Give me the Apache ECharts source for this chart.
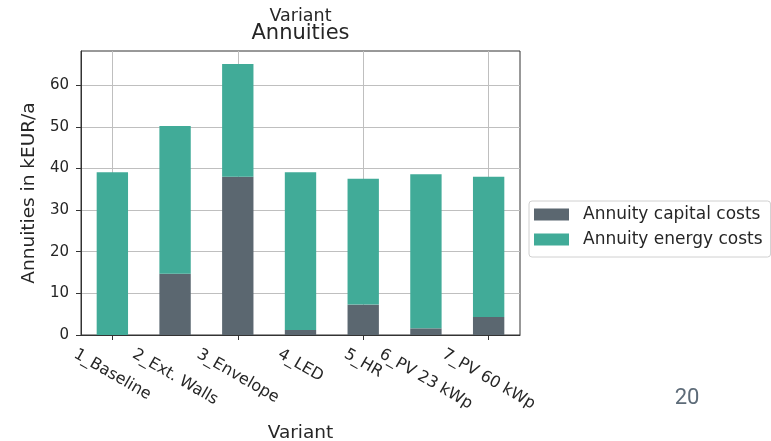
<!DOCTYPE html>
<html>
<head>
<meta charset="utf-8">
<script src="https://cdn.jsdelivr.net/npm/echarts@6/dist/echarts.min.js"></script>
<style>
  html, body { margin: 0; padding: 0; background: #ffffff; }
  #chart { width: 771px; height: 441px; }
</style>
</head>
<body>
<div id="chart"></div>
<script>
// Annuities per refurbishment variant, in kEUR per year
const variants = ['1_Baseline', '2_Ext. Walls', '3_Envelope', '4_LED', '5_HR', '6_PV 23 kWp', '7_PV 60 kWp'];
const capitalCosts = [0, 14.7, 38.0, 1.2, 7.3, 1.6, 4.3];
const energyCosts = [39.1, 35.5, 27.1, 37.9, 30.2, 37.0, 33.7];
const yTickValues = [0, 10, 20, 30, 40, 50, 60];
const seriesNames = ['Annuity capital costs', 'Annuity energy costs'];

const INK = '#262626';
const FONT = 'DejaVu Sans';
const TICK_FONT_SIZE = 15;
const CAT_FONT_SIZE = 16;

const chart = echarts.init(document.getElementById('chart'), null, { renderer: 'canvas' });

const option = {
  animation: false,
  backgroundColor: '#ffffff',
  grid: {
    left: 81, right: 251, top: 51, bottom: 106,
    show: true, borderColor: '#333333', borderWidth: 1, backgroundColor: 'transparent'
  },
  legend: {
    orient: 'vertical',
    left: 529, top: 201,
    icon: 'rect',
    itemWidth: 35, itemHeight: 12, itemGap: 8,
    padding: [5, 8, 9, 5],
    borderColor: '#d0d0d0', borderWidth: 1, borderRadius: 3,
    backgroundColor: '#ffffff',
    textStyle: { fontSize: 17, color: INK, fontFamily: FONT, padding: [0, 0, 0, 9] },
    data: seriesNames
  },
  xAxis: {
    type: 'category',
    data: variants,
    boundaryGap: true,
    axisLine: { show: true, lineStyle: { color: '#333333', width: 1 } },
    axisTick: { show: true, alignWithLabel: true, length: 5, lineStyle: { color: '#333333' } },
    axisLabel: { show: false },
    splitLine: { show: true, alignWithLabel: true, lineStyle: { color: '#bfbfbf', width: 1 } }
  },
  yAxis: {
    type: 'value',
    min: 0, max: 68.2, interval: 10,
    axisLine: { show: true, lineStyle: { color: '#333333', width: 1 } },
    axisTick: { show: true, length: 5, customValues: yTickValues, lineStyle: { color: '#333333' } },
    axisLabel: { show: true, customValues: yTickValues, margin: 12, fontSize: TICK_FONT_SIZE, color: INK, fontFamily: FONT },
    splitLine: { show: true, lineStyle: { color: '#bfbfbf', width: 1 } }
  },
  series: [
    {
      name: seriesNames[0], type: 'bar', stack: 'total', barWidth: '50%',
      itemStyle: { color: '#5b6770' },
      emphasis: { disabled: true },
      data: capitalCosts
    },
    {
      name: seriesNames[1], type: 'bar', stack: 'total', barWidth: '50%',
      itemStyle: { color: '#41ab98' },
      emphasis: { disabled: true },
      data: energyCosts
    }
  ]
};

chart.setOption(option);

// Rotated category labels, centred under each tick (box-centred like a rotated matplotlib label)
const measureCtx = document.createElement('canvas').getContext('2d');
measureCtx.font = CAT_FONT_SIZE + 'px "' + FONT + '"';
const angle = Math.PI / 6;
const axisY = chart.convertToPixel({ yAxisIndex: 0 }, 0);
const labelTop = axisY + 5 + 5;
const lineH = CAT_FONT_SIZE * 1.17;

function txt(text, x, y, size, rot, color, family) {
  return {
    type: 'text', x: x, y: y, rotation: rot || 0, silent: true,
    style: {
      text: text, fill: color || INK,
      fontSize: size, fontFamily: family || FONT,
      font: size + 'px "' + (family || FONT) + '"',
      align: 'center', verticalAlign: 'middle',
      textAlign: 'center', textVerticalAlign: 'middle'
    }
  };
}

const graphics = variants.map(function (name, i) {
  const cx = chart.convertToPixel({ xAxisIndex: 0 }, i);
  const w = measureCtx.measureText(name).width;
  const boxH = w * Math.sin(angle) + lineH * Math.cos(angle);
  return txt(name, cx, labelTop + boxH / 2, CAT_FONT_SIZE, -angle);
});

const plotCx = (chart.convertToPixel({ xAxisIndex: 0 }, 0) + chart.convertToPixel({ xAxisIndex: 0 }, variants.length - 1)) / 2;
const plotCy = (chart.convertToPixel({ yAxisIndex: 0 }, 0) + chart.convertToPixel({ yAxisIndex: 0 }, 68.2)) / 2;

graphics.push(txt('Variant', plotCx, 16, 17.5));
graphics.push(txt('Annuities', plotCx, 33.5, 21));
graphics.push(txt('Variant', plotCx, 433, 18.5));
graphics.push(txt('Annuities in kEUR/a', 29, plotCy, 18.5, Math.PI / 2));
graphics.push(txt('20', 687, 398, 22, 0, '#5d6b78', 'Roboto'));

chart.setOption({ graphic: graphics });
</script>
</body>
</html>
